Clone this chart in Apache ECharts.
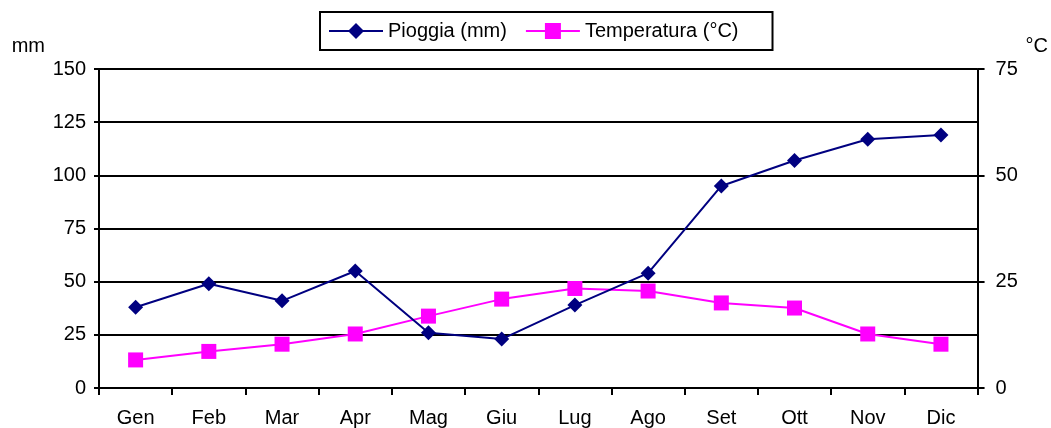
<!DOCTYPE html>
<html>
<head>
<meta charset="utf-8">
<script src="https://cdn.jsdelivr.net/npm/echarts@6/dist/echarts.min.js"></script>
<style>
  html, body { margin: 0; padding: 0; background: #fff; }
  #chart { width: 1051px; height: 428px; }
</style>
</head>
<body>
<div id="chart"></div>
<script>
// Monthly climate data
const months = ['Gen', 'Feb', 'Mar', 'Apr', 'Mag', 'Giu', 'Lug', 'Ago', 'Set', 'Ott', 'Nov', 'Dic'];
const rainfall = [38, 49, 41, 55, 26, 23, 39, 54, 95, 107, 117, 119];
const temperature = [6.6, 8.6, 10.3, 12.7, 16.9, 20.9, 23.4, 22.8, 20.0, 18.8, 12.7, 10.3];
const rainTicks = { min: 0, max: 150, interval: 25 };
const tempTicks = { min: 0, max: 75, interval: 25 };

const FONT = '"Liberation Sans", Arial, sans-serif';
const chart = echarts.init(document.getElementById('chart'), null, { renderer: 'canvas' });

chart.setOption({
  animation: false,
  backgroundColor: '#ffffff',
  textStyle: { fontFamily: FONT, color: '#000' },
  grid: { left: 99, right: 69, top: 69, bottom: 39, containLabel: false },
  legend: {
    top: 12,
    left: 320,
    itemGap: 18,
    itemWidth: 54,
    itemHeight: 20,
    padding: [9, 34, 9, 8],
    borderColor: '#000',
    borderWidth: 2,
    textStyle: { fontFamily: FONT, fontSize: 20, color: '#000' },
    data: ['Pioggia (mm)', 'Temperatura (°C)']
  },
  xAxis: {
    type: 'category',
    data: months,
    boundaryGap: true,
    axisLine: { lineStyle: { color: '#000', width: 2 } },
    axisTick: { show: true, inside: false, length: 7, lineStyle: { color: '#000', width: 2 } },
    axisLabel: { fontFamily: FONT, fontSize: 20, color: '#000', margin: 20 },
    splitLine: { show: false }
  },
  yAxis: [
    {
      type: 'value',
      name: 'mm',
      nameLocation: 'end',
      nameGap: 13,
      nameTextStyle: { fontFamily: FONT, fontSize: 20, color: '#000', align: 'right', padding: [0, 54, 0, 0] },
      min: rainTicks.min, max: rainTicks.max, interval: rainTicks.interval,
      position: 'left',
      axisLine: { show: true, lineStyle: { color: '#000', width: 2 } },
      axisTick: { show: true, inside: false, length: 5, lineStyle: { color: '#000', width: 2 } },
      axisLabel: { fontFamily: FONT, fontSize: 20, color: '#000', margin: 13 },
      splitLine: { show: true, lineStyle: { color: '#000', width: 2 } }
    },
    {
      type: 'value',
      name: '°C',
      nameLocation: 'end',
      nameGap: 13,
      nameTextStyle: { fontFamily: FONT, fontSize: 20, color: '#000', align: 'left', padding: [0, 0, 0, 48] },
      min: tempTicks.min, max: tempTicks.max, interval: tempTicks.interval,
      position: 'right',
      axisLine: { show: true, lineStyle: { color: '#000', width: 2 } },
      axisTick: { show: true, inside: false, length: 7, lineStyle: { color: '#000', width: 2 } },
      axisLabel: { fontFamily: FONT, fontSize: 20, color: '#000', margin: 18 },
      splitLine: { show: false }
    }
  ],
  series: [
    {
      name: 'Pioggia (mm)',
      type: 'line',
      yAxisIndex: 0,
      data: rainfall,
      symbol: 'diamond',
      symbolSize: 15,
      color: '#000080',
      lineStyle: { color: '#000080', width: 2 },
      itemStyle: { color: '#000080' },
      z: 3
    },
    {
      name: 'Temperatura (°C)',
      type: 'line',
      yAxisIndex: 1,
      data: temperature,
      symbol: 'rect',
      symbolSize: 15,
      color: '#ff00ff',
      lineStyle: { color: '#ff00ff', width: 2 },
      itemStyle: { color: '#ff00ff' },
      z: 2
    }
  ]
});
</script>
</body>
</html>
